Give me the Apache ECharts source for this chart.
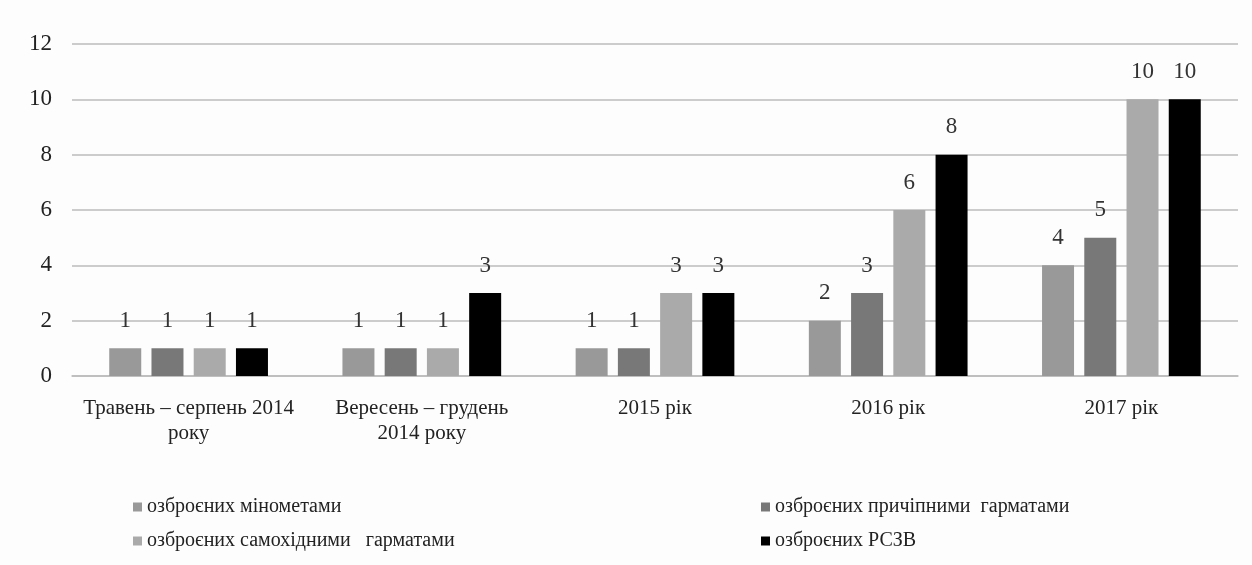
<!DOCTYPE html>
<html lang="uk">
<head>
    <meta charset="UTF-8">
    <title>Chart</title>
    <script src="https://cdn.jsdelivr.net/npm/echarts@6/dist/echarts.min.js"></script>
    <style>
        body { margin: 0; background: #fdfdfd; }
        #main { width: 1252px; height: 565px; }
    </style>
</head>
<body>
    <div id="main"></div>
    <script>
        var categories = ['Травень – серпень 2014\nроку', 'Вересень – грудень\n2014 року', '2015 рік', '2016 рік', '2017 рік'];
        var seriesNames = ['озброєних мінометами', 'озброєних причіпними  гарматами', 'озброєних самохідними   гарматами', 'озброєних РСЗВ'];
        var mortars = [1, 1, 1, 2, 4];
        var towed = [1, 1, 1, 3, 5];
        var selfPropelled = [1, 1, 3, 6, 10];
        var mlrs = [1, 3, 3, 8, 10];
        var colors = ['#999999', '#787878', '#aaaaaa', '#000000'];

        var chart = echarts.init(document.getElementById('main'));
        var font = 'serif';

        function bar(name, data, color) {
            return {
                name: name,
                type: 'bar',
                data: data,
                barWidth: 32,
                barGap: '32%',
                itemStyle: { color: color },
                label: {
                    show: true,
                    position: 'top',
                    distance: 16,
                    fontFamily: font,
                    fontSize: 23,
                    color: '#333'
                }
            };
        }

        var legendText = { fontFamily: font, fontSize: 20, color: '#222' };

        chart.setOption({
            backgroundColor: '#fdfdfd',
            animation: false,
            textStyle: { fontFamily: font },
            grid: { left: 72, right: 14, top: 44, bottom: 189 },
            legend: [{
                data: [seriesNames[0], seriesNames[2]],
                orient: 'vertical',
                left: 128, top: 492,
                itemWidth: 9, itemHeight: 9, itemGap: 14,
                icon: 'rect',
                textStyle: legendText
            }, {
                data: [seriesNames[1], seriesNames[3]],
                orient: 'vertical',
                left: 756, top: 492,
                itemWidth: 9, itemHeight: 9, itemGap: 14,
                icon: 'rect',
                textStyle: legendText
            }],
            xAxis: {
                type: 'category',
                data: categories,
                axisLine: { lineStyle: { color: '#bbbbbb', width: 1.5 } },
                axisTick: { show: false },
                axisLabel: {
                    margin: 20,
                    fontFamily: font,
                    fontSize: 21,
                    lineHeight: 25,
                    color: '#222',
                    interval: 0
                }
            },
            yAxis: {
                type: 'value',
                min: 0, max: 12, interval: 2,
                axisLine: { show: false },
                axisTick: { show: false },
                axisLabel: {
                    margin: 20,
                    fontFamily: font,
                    fontSize: 23,
                    color: '#222'
                },
                splitLine: { lineStyle: { color: '#bbbbbb', width: 1.5 } }
            },
            series: [
                bar(seriesNames[0], mortars, colors[0]),
                bar(seriesNames[1], towed, colors[1]),
                bar(seriesNames[2], selfPropelled, colors[2]),
                bar(seriesNames[3], mlrs, colors[3])
            ]
        });
    </script>
</body>
</html>
